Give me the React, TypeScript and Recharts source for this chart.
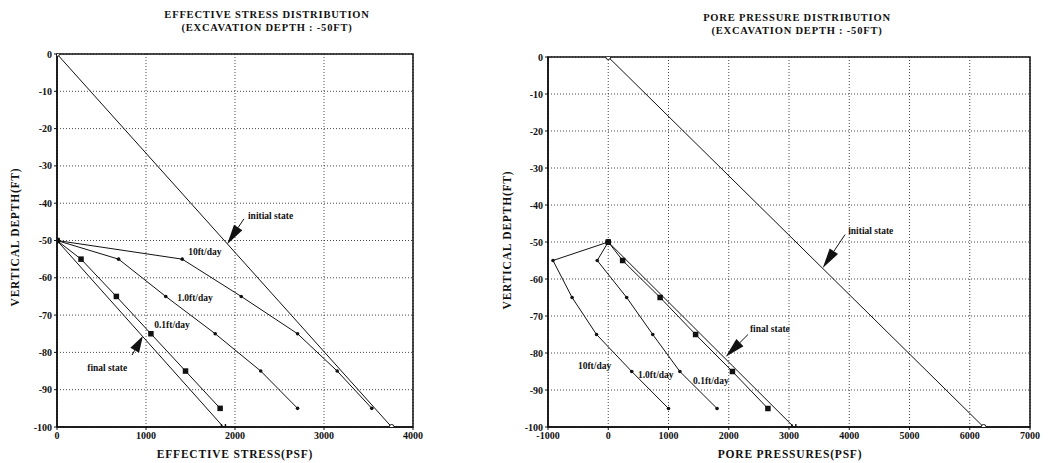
import React from 'react';
import {
  LineChart, Line, XAxis, YAxis, CartesianGrid, ReferenceArea, ReferenceDot, ReferenceLine,
} from 'recharts';

// ---------- data ----------
const DEPTH_TICKS = [0, -10, -20, -30, -40, -50, -60, -70, -80, -90, -100];
const ES_TICKS = [0, 1000, 2000, 3000, 4000];
const PP_TICKS = [-1000, 0, 1000, 2000, 3000, 4000, 5000, 6000, 7000];

const RATE_DEPTHS = [-50, -55, -65, -75, -85, -95];
const LINE_DEPTHS = [0, -100];
const FINAL_DEPTHS = [-50, -100];

// Effective stress (psf)
const ES_INITIAL = [0, 3760];
const ES_FINAL = [0, 1870];
const ES_10 = [0, 1407, 2070, 2703, 3148, 3537];
const ES_1 = [0, 692, 1222, 1778, 2289, 2703];
const ES_01 = [0, 270, 667, 1055, 1444, 1833];

// Pore pressure (psf)
const PP_INITIAL = [0, 6230];
const PP_FINAL = [0, 3080];
const PP_10 = [0, -917, -600, -194, 390, 1000];
const PP_1 = [0, -183, 306, 739, 1189, 1806];
const PP_01 = [0, 239, 861, 1450, 2061, 2650];

const zip = (xs: number[], ys: number[]) => xs.map((x, i) => ({ x, y: ys[i] }));

const FONT = '"Liberation Serif", "Times New Roman", serif';
const INK = '#111';

// ---------- marks ----------
const smallDot = (p: any) => {
  const { cx, cy, index } = p;
  if (cx == null || cy == null) return <g key={`s${index}`} />;
  const r = index === 0 ? 2.8 : 1.8;
  return <circle key={`s${index}`} cx={cx} cy={cy} r={r} fill={INK} />;
};
const squareDot = (p: any) => {
  const { cx, cy, index } = p;
  if (cx == null || cy == null) return <g key={`q${index}`} />;
  const s = 5.5;
  return <rect key={`q${index}`} x={cx - s / 2} y={cy - s / 2} width={s} height={s} fill={INK} />;
};
const circleDot = (p: any) => {
  const { cx, cy, index } = p;
  if (cx == null || cy == null) return <g key={`c${index}`} />;
  return <circle key={`c${index}`} cx={cx} cy={cy} r={2.5} fill="#fff" stroke={INK} strokeWidth={1} />;
};
const endTick = (p: any) => {
  const { cx, cy, index } = p;
  if (cx == null || cy == null) return <g key={`e${index}`} />;
  if (index === 0) return <circle key={`e${index}`} cx={cx} cy={cy} r={2.5} fill={INK} />;
  return (
    <g key={`e${index}`}>
      <line x1={cx - 2} y1={cy - 3} x2={cx - 2} y2={cy + 3} stroke={INK} strokeWidth={1.4} />
      <line x1={cx + 2} y1={cy - 3} x2={cx + 2} y2={cy + 3} stroke={INK} strokeWidth={1.4} />
      <line x1={cx - 2} y1={cy} x2={cx + 2} y2={cy} stroke={INK} strokeWidth={1.4} />
    </g>
  );
};

const arrowShape = (p: any) => {
  const { x1, y1, x2, y2 } = p;
  if ([x1, y1, x2, y2].some((v) => v == null || isNaN(v))) return <g />;
  const dx = x2 - x1, dy = y2 - y1;
  const len = Math.sqrt(dx * dx + dy * dy) || 1;
  const ux = dx / len, uy = dy / len;
  const head = Math.min(20, len * 0.75);
  const bx = x2 - ux * head, by = y2 - uy * head;
  const w = 5;
  const pts = `${x2},${y2} ${bx - uy * w},${by + ux * w} ${bx + uy * w},${by - ux * w}`;
  return (
    <g>
      <line x1={x1} y1={y1} x2={bx} y2={by} stroke={INK} strokeWidth={1} />
      <polygon points={pts} fill={INK} />
    </g>
  );
};

const textShape = (txt: string) => (p: any) => {
  const { cx, cy } = p;
  return (
    <text x={cx} y={cy} dominantBaseline="middle" textAnchor="start"
      fontFamily={FONT} fontWeight="bold" fontSize={9.5} fill={INK}>
      {txt}
    </text>
  );
};

const tickStyle = { fontFamily: FONT, fontWeight: 'bold' as const, fontSize: 10, fill: INK };

const titleStyle: React.CSSProperties = {
  position: 'absolute', fontFamily: FONT, fontWeight: 'bold', fontSize: 10.5,
  letterSpacing: 0.8, textAlign: 'center', lineHeight: '12.5px', color: INK, whiteSpace: 'nowrap',
};
const axisTitleStyle: React.CSSProperties = {
  position: 'absolute', fontFamily: FONT, fontWeight: 'bold', fontSize: 11.5,
  letterSpacing: 0.8, color: INK, whiteSpace: 'nowrap',
};

type Ann = { t: string; x: number; y: number };
type Arrow = { from: [number, number]; to: [number, number] };

function Panel(props: {
  width: number; margin: any; yWidth: number; xTicks: number[]; xDomain: [number, number];
  series: { data: { x: number; y: number }[]; dot: any; w?: number }[];
  anns: Ann[]; arrows: Arrow[];
}) {
  const { width, margin, yWidth, xTicks, xDomain, series, anns, arrows } = props;
  return (
    <LineChart width={width} height={463} margin={margin}>
      <CartesianGrid stroke="#333" strokeDasharray="1 2" strokeWidth={0.9} />
      <XAxis type="number" dataKey="x" domain={xDomain} ticks={xTicks} interval={0}
        allowDataOverflow tick={tickStyle} tickSize={3} tickMargin={2} height={36}
        axisLine={{ stroke: INK, strokeWidth: 1.5 }} tickLine={{ stroke: INK }} />
      <YAxis type="number" dataKey="y" domain={[-100, 0]} ticks={DEPTH_TICKS} interval={0}
        allowDataOverflow tick={tickStyle} tickSize={3} tickMargin={2} width={yWidth}
        axisLine={{ stroke: INK, strokeWidth: 1.5 }} tickLine={{ stroke: INK }} />
      <ReferenceArea x1={xDomain[0]} x2={xDomain[1]} y1={-100} y2={0}
        fill="none" stroke={INK} strokeWidth={1.5} fillOpacity={0} ifOverflow="visible" />
      {series.map((s, i) => (
        <Line key={i} data={s.data} dataKey="y" type="linear" stroke={INK}
          strokeWidth={s.w ?? 1} dot={s.dot} activeDot={false} isAnimationActive={false} />
      ))}
      {arrows.map((a, i) => (
        <ReferenceLine key={`a${i}`} segment={[{ x: a.from[0], y: a.from[1] }, { x: a.to[0], y: a.to[1] }]}
          shape={arrowShape} ifOverflow="visible" />
      ))}
      {anns.map((a, i) => (
        <ReferenceDot key={`t${i}`} x={a.x} y={a.y} r={0} shape={textShape(a.t)} ifOverflow="visible" />
      ))}
    </LineChart>
  );
}

export default function App() {
  const esSeries = [
    { data: zip(ES_INITIAL, LINE_DEPTHS), dot: circleDot },
    { data: zip(ES_FINAL, FINAL_DEPTHS), dot: endTick },
    { data: zip(ES_10, RATE_DEPTHS), dot: smallDot },
    { data: zip(ES_1, RATE_DEPTHS), dot: smallDot },
    { data: zip(ES_01, RATE_DEPTHS), dot: squareDot },
  ];
  const ppSeries = [
    { data: zip(PP_INITIAL, LINE_DEPTHS), dot: circleDot },
    { data: zip(PP_FINAL, FINAL_DEPTHS), dot: endTick },
    { data: zip(PP_10, RATE_DEPTHS), dot: smallDot },
    { data: zip(PP_1, RATE_DEPTHS), dot: smallDot },
    { data: zip(PP_01, RATE_DEPTHS), dot: squareDot },
  ];
  const esAnns: Ann[] = [
    { t: 'initial state', x: 2146, y: -43.7 },
    { t: '10ft/day', x: 1474, y: -53.4 },
    { t: '1.0ft/day', x: 1350, y: -65.7 },
    { t: '0.1ft/day', x: 1092, y: -73.0 },
    { t: 'final state', x: 340, y: -84.3 },
  ];
  const esArrows: Arrow[] = [
    { from: [2100, -44.2], to: [1912, -51] },
    { from: [843, -80.7], to: [965, -75.6] },
  ];
  const ppAnns: Ann[] = [
    { t: 'initial state', x: 3982, y: -47.2 },
    { t: 'final state', x: 2352, y: -73.6 },
    { t: '10ft/day', x: -503, y: -83.6 },
    { t: '1.0ft/day', x: 493, y: -86.3 },
    { t: '0.1ft/day', x: 1407, y: -87.7 },
  ];
  const ppArrows: Arrow[] = [
    { from: [3930, -48.0], to: [3560, -57] },
    { from: [2320, -75.0], to: [1950, -81] },
  ];

  return (
    <div style={{ position: 'absolute', left: 0, top: 0, width: 1056, height: 463, background: '#fff', overflow: 'hidden' }}>
      <div style={{ position: 'absolute', left: 0, top: 0 }}>
        <Panel width={528} margin={{ top: 54, right: 115, bottom: 0, left: 0 }} yWidth={57}
          xTicks={ES_TICKS} xDomain={[0, 4000]} series={esSeries} anns={esAnns} arrows={esArrows} />
      </div>
      <div style={{ position: 'absolute', left: 495, top: 0 }}>
        <Panel width={561} margin={{ top: 57, right: 26, bottom: 0, left: 0 }} yWidth={53}
          xTicks={PP_TICKS} xDomain={[-1000, 7000]} series={ppSeries} anns={ppAnns} arrows={ppArrows} />
      </div>

      <div style={{ ...titleStyle, left: 267 - 150, top: 9, width: 300 }}>
        EFFECTIVE STRESS DISTRIBUTION<br />(EXCAVATION DEPTH : -50FT)
      </div>
      <div style={{ ...titleStyle, left: 797 - 150, top: 12, width: 300 }}>
        PORE PRESSURE DISTRIBUTION<br />(EXCAVATION DEPTH : -50FT)
      </div>

      <div style={{ ...axisTitleStyle, left: 235 - 100, top: 448, width: 200, textAlign: 'center' }}>
        EFFECTIVE STRESS(PSF)
      </div>
      <div style={{ ...axisTitleStyle, left: 790 - 100, top: 448, width: 200, textAlign: 'center' }}>
        PORE PRESSURES(PSF)
      </div>

      <div style={{ ...axisTitleStyle, left: 15 - 100, top: 237 - 8, width: 200, height: 16, lineHeight: '16px', textAlign: 'center', transform: 'rotate(-90deg)' }}>
        VERTICAL DEPTH(FT)
      </div>
      <div style={{ ...axisTitleStyle, left: 507 - 100, top: 240 - 8, width: 200, height: 16, lineHeight: '16px', textAlign: 'center', transform: 'rotate(-90deg)' }}>
        VERTICAL DEPTH(FT)
      </div>
    </div>
  );
}
